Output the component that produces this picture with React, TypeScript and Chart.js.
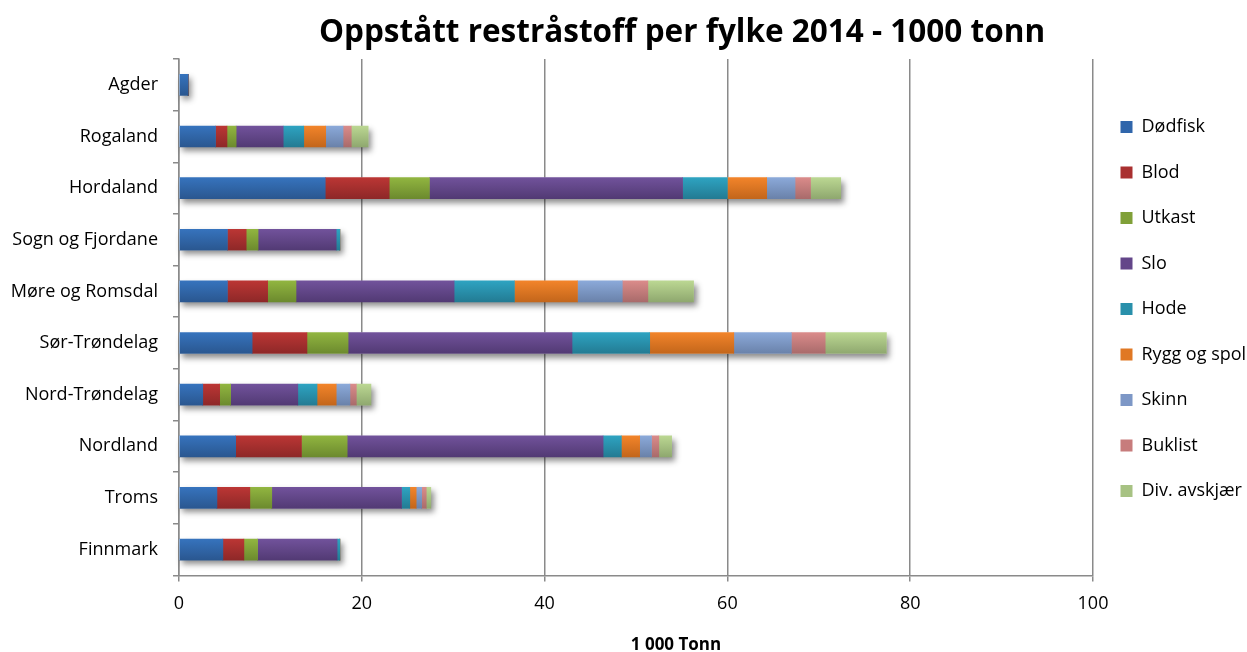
import React, { useEffect, useRef } from "react";
import { Chart, registerables } from "chart.js";

Chart.register(...registerables);

const categories = [
  "Agder",
  "Rogaland",
  "Hordaland",
  "Sogn og Fjordane",
  "Møre og Romsdal",
  "Sør-Trøndelag",
  "Nord-Trøndelag",
  "Nordland",
  "Troms",
  "Finnmark",
];

const seriesNames = [
  "Dødfisk",
  "Blod",
  "Utkast",
  "Slo",
  "Hode",
  "Rygg og spol",
  "Skinn",
  "Buklist",
  "Div. avskjær",
];

const dodfisk = [1.0, 4.0, 16.0, 5.3, 5.3, 8.0, 2.6, 6.2, 4.15, 4.8];
const blod = [0, 1.25, 7.0, 2.05, 4.4, 6.0, 1.85, 7.2, 3.6, 2.3];
const utkast = [0, 1.0, 4.4, 1.3, 3.1, 4.5, 1.2, 5.0, 2.4, 1.5];
const slo = [0, 5.15, 27.7, 8.55, 17.3, 24.5, 7.35, 28.0, 14.2, 8.7];
const hode = [0, 2.25, 4.9, 0.4, 6.6, 8.5, 2.1, 2.0, 0.9, 0.3];
const ryggOgSpol = [0, 2.4, 4.3, 0, 6.9, 9.2, 2.1, 2.0, 0.7, 0];
const skinn = [0, 1.9, 3.1, 0, 4.9, 6.3, 1.5, 1.3, 0.6, 0];
const buklist = [0, 0.9, 1.7, 0, 2.8, 3.7, 0.7, 0.8, 0.5, 0];
const divAvskjaer = [0, 1.85, 3.3, 0, 5.0, 6.7, 1.6, 1.4, 0.5, 0];

const seriesValues = [dodfisk, blod, utkast, slo, hode, ryggOgSpol, skinn, buklist, divAvskjaer];

const xTicks = [0, 20, 40, 60, 80, 100];

const titleText = "Oppstått restråstoff per fylke 2014 - 1000 tonn";
const xTitleText = "1 000 Tonn";

const colorsTop = ["#3673BD", "#BB3634", "#91B540", "#71529B", "#2EA3C1", "#F2842A", "#8BA9D9", "#DA8B8A", "#BBD792"];
const colorsBottom = ["#2A5790", "#8E2828", "#6C8A2E", "#523A74", "#237B93", "#C3661B", "#6A82AA", "#A96B6B", "#8FA86F"];
const colorsMid = ["#3066AB", "#A93030", "#80A038", "#634689", "#2990AB", "#E07824", "#7D97C6", "#C77C7C", "#A7C283"];

const FONT = "'Open Sans', 'DejaVu Sans', sans-serif";
const BAR_H = 21;

const shadowPlugin = {
  id: "barShadow",
  beforeDatasetsDraw(chart: any) {
    const xs = chart.scales.x;
    const ys = chart.scales.y;
    const c = chart.ctx;
    c.save();
    c.shadowColor = "rgba(0,0,0,0.45)";
    c.shadowBlur = 6;
    c.shadowOffsetX = 3;
    c.shadowOffsetY = 4;
    c.fillStyle = "#ffffff";
    categories.forEach((_, i) => {
      const total = seriesValues.reduce((s, arr) => s + arr[i], 0);
      const x0 = xs.getPixelForValue(0);
      const x1 = xs.getPixelForValue(total);
      const yc = ys.getPixelForValue(i);
      c.fillRect(x0, yc - BAR_H / 2, x1 - x0, BAR_H);
    });
    c.restore();
  },
};

const textPlugin = {
  id: "extraText",
  afterDraw(chart: any) {
    const c = chart.ctx;
    c.save();
    c.fillStyle = "#000000";
    c.textAlign = "center";
    c.textBaseline = "middle";
    c.font = `bold 31.5px ${FONT}`;
    c.fillText(titleText, 682, 33);
    c.font = `bold 17px ${FONT}`;
    c.fillText(xTitleText, 676, 645);
    c.restore();
  },
};

export default function App() {
  const ref = useRef<HTMLCanvasElement | null>(null);

  useEffect(() => {
    if (!ref.current) return;
    const datasets = seriesNames.map((name, k) => ({
      label: name,
      data: seriesValues[k],
      backgroundColor: (ctx: any) => {
        const chart = ctx.chart;
        const ys = chart.scales && chart.scales.y;
        if (!ys || ctx.type !== "data") return colorsMid[k];
        const yc = ys.getPixelForValue(ctx.dataIndex);
        const g = chart.ctx.createLinearGradient(0, yc - BAR_H / 2, 0, yc + BAR_H / 2);
        g.addColorStop(0, colorsTop[k]);
        g.addColorStop(1, colorsBottom[k]);
        return g;
      },
      borderWidth: 0,
      barThickness: BAR_H,
    }));

    const chart = new Chart(ref.current, {
      type: "bar",
      data: { labels: categories, datasets },
      plugins: [shadowPlugin, textPlugin],
      options: {
        indexAxis: "y",
        responsive: false,
        animation: false,
        devicePixelRatio: 1,
        layout: { padding: { top: 59, bottom: 25, left: 0, right: 0 } },
        plugins: {
          title: { display: false },
          tooltip: { enabled: false },
          legend: {
            position: "right",
            align: "start",
            fullSize: false,
            maxWidth: 154,
            title: {
              display: true,
              text: "",
              color: "#000000",
              font: { size: 10 },
              padding: { top: 19.5, bottom: 0 },
            },
            labels: {
              boxWidth: 12,
              boxHeight: 12,
              padding: 27.5,
              color: "#000000",
              font: { family: FONT, size: 18 },
              generateLabels: () =>
                seriesNames.map((name, k) => ({
                  text: name,
                  fillStyle: colorsMid[k],
                  strokeStyle: colorsMid[k],
                  fontColor: "#000000",
                  lineWidth: 0,
                  hidden: false,
                  datasetIndex: k,
                })),
            },
          },
        },
        scales: {
          x: {
            stacked: true,
            min: 0,
            max: 100,
            afterBuildTicks: (scale: any) => {
              scale.ticks = xTicks.map((v) => ({ value: v }));
            },
            ticks: {
              color: "#000000",
              font: { family: FONT, size: 18 },
              padding: 12,
            },
            grid: { color: "#8a8a8a", lineWidth: 1.5, tickLength: 6 },
            border: { color: "#8a8a8a", width: 1.5 },
          },
          y: {
            stacked: true,
            afterFit: (scale: any) => {
              scale.width = 179;
            },
            ticks: {
              color: "#000000",
              font: { family: FONT, size: 18 },
              padding: 15,
            },
            grid: {
              drawOnChartArea: false,
              drawTicks: true,
              tickLength: 6,
              color: "#8a8a8a",
              lineWidth: 1.5,
              offset: true,
            },
            border: { color: "#8a8a8a", width: 1.5 },
          },
        },
      },
    });
    return () => chart.destroy();
  }, []);

  return (
    <canvas
      ref={ref}
      width={1247}
      height={652}
      style={{ position: "absolute", left: 0, top: 0, display: "block" }}
    />
  );
}
